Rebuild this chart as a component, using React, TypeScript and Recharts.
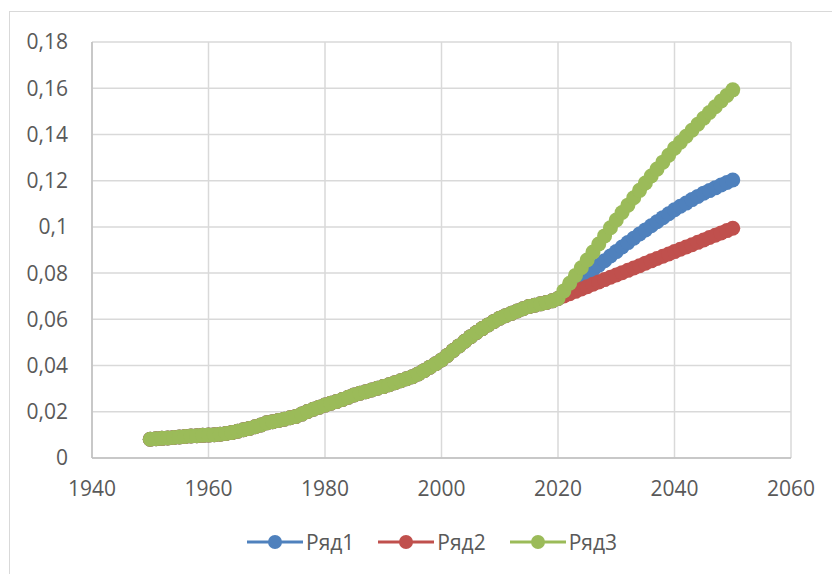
import React from 'react';
import { LineChart, Line, XAxis, YAxis, CartesianGrid, Legend } from 'recharts';

// shared history, one value per year 1950..2020
const baseValues = [
  0.0081, 0.0083, 0.0085, 0.0087, 0.0089, 0.0091, 0.0093, 0.0095, 0.0096, 0.0098,
  0.0099, 0.0101, 0.0103, 0.0106, 0.011, 0.0116, 0.0122, 0.0128, 0.0135, 0.0143,
  0.0152, 0.0157, 0.0162, 0.0168, 0.0174, 0.018, 0.019, 0.0201, 0.0211, 0.022,
  0.0229, 0.0237, 0.0245, 0.0253, 0.0263, 0.0273, 0.028, 0.0287, 0.0294, 0.0302,
  0.0309, 0.0317, 0.0326, 0.0334, 0.0343, 0.0352, 0.0364, 0.0378, 0.0393, 0.0408,
  0.0424, 0.0444, 0.0465, 0.0485, 0.0505, 0.0525, 0.0543, 0.056, 0.0576, 0.0591,
  0.0605, 0.0616, 0.0626, 0.0636, 0.0646, 0.0655, 0.0661, 0.0667, 0.0673, 0.068,
  0.069,
];

// scenarios, one value per year 2021..2050
const row1Values = [
  0.0711, 0.0732, 0.0752, 0.0772, 0.0792, 0.0813, 0.0834, 0.0854, 0.0874, 0.0893,
  0.0913, 0.0932, 0.0951, 0.0969, 0.0987, 0.1005, 0.1022, 0.104, 0.1057, 0.1074,
  0.1089, 0.1103, 0.1118, 0.1132, 0.1146, 0.1157, 0.1169, 0.1181, 0.1192, 0.1203,
];
const row2Values = [
  0.0701, 0.0711, 0.0721, 0.0731, 0.0741, 0.0752, 0.0762, 0.0772, 0.0782, 0.0792,
  0.0802, 0.0812, 0.0822, 0.0832, 0.0843, 0.0853, 0.0863, 0.0873, 0.0883, 0.0893,
  0.0903, 0.0913, 0.0923, 0.0933, 0.0943, 0.0954, 0.0964, 0.0974, 0.0984, 0.0994,
];
const row3Values = [
  0.0723, 0.0756, 0.079, 0.0823, 0.0857, 0.0891, 0.0926, 0.0961, 0.0996, 0.103,
  0.1062, 0.1094, 0.1126, 0.1158, 0.119, 0.122, 0.125, 0.128, 0.131, 0.134,
  0.1366, 0.1392, 0.1418, 0.1444, 0.147, 0.1495, 0.152, 0.1545, 0.1569, 0.1593,
];

const firstYear = 1950;
const xTicks = [1940, 1960, 1980, 2000, 2020, 2040, 2060];
const yTicks = [0, 0.02, 0.04, 0.06, 0.08, 0.1, 0.12, 0.14, 0.16, 0.18];

const seriesNames = ['Ряд1', 'Ряд2', 'Ряд3'];
const seriesColors = ['#4f81bd', '#c0504d', '#9bbb59'];

const FONT = '"Open Sans", "Liberation Sans", sans-serif';
const TEXT_COLOR = '#595959';

const data = [
  ...baseValues.map((v, i) => ({ year: firstYear + i, s1: v, s2: v, s3: v })),
  ...row1Values.map((v, i) => ({
    year: firstYear + baseValues.length + i,
    s1: v,
    s2: row2Values[i],
    s3: row3Values[i],
  })),
];

const formatY = (v: number) => String(v).replace('.', ',');

const LegendContent = () => (
  <div style={{ display: 'flex', paddingLeft: 237, height: 30, alignItems: 'center' }}>
    {seriesNames.map((name, i) => (
      <div key={name} style={{ display: 'flex', alignItems: 'center', marginRight: 24 }}>
        <svg width={56} height={16}>
          <line x1={0} y1={8} x2={56} y2={8} stroke={seriesColors[i]} strokeWidth={3} />
          <circle cx={28} cy={8} r={7} fill={seriesColors[i]} />
        </svg>
        <span style={{ fontFamily: FONT, fontSize: 21, color: TEXT_COLOR, marginLeft: 3 }}>{name}</span>
      </div>
    ))}
  </div>
);

export default function App() {
  return (
    <div
      style={{
        position: 'absolute',
        left: 9,
        top: 11,
        width: 830,
        height: 570,
        border: '1px solid #d9d9d9',
        background: '#fff',
      }}
    >
      <LineChart
        width={822}
        height={560}
        data={data}
        margin={{ top: 30, right: 41, left: 0, bottom: 15 }}
      >
        <CartesianGrid stroke="#d9d9d9" strokeWidth={1.5} />
        <XAxis
          dataKey="year"
          type="number"
          domain={[1940, 2060]}
          ticks={xTicks}
          height={69}
          tickLine={false}
          tickMargin={17}
          axisLine={{ stroke: '#bfbfbf', strokeWidth: 1.5 }}
          tick={{ fill: TEXT_COLOR, fontSize: 21, fontFamily: FONT }}
        />
        <YAxis
          type="number"
          domain={[0, 0.18]}
          ticks={yTicks}
          width={82}
          tickLine={false}
          tickMargin={18}
          tickFormatter={formatY}
          axisLine={{ stroke: '#bfbfbf', strokeWidth: 1.5 }}
          tick={{ fill: TEXT_COLOR, fontSize: 21, fontFamily: FONT }}
        />
        <Legend verticalAlign="bottom" content={<LegendContent />} />
        {['s1', 's2', 's3'].map((key, i) => (
          <Line
            key={key}
            type="monotone"
            dataKey={key}
            name={seriesNames[i]}
            stroke={seriesColors[i]}
            strokeWidth={3}
            dot={{ r: 7.5, fill: seriesColors[i], stroke: seriesColors[i], strokeWidth: 0 }}
            isAnimationActive={false}
          />
        ))}
      </LineChart>
    </div>
  );
}
